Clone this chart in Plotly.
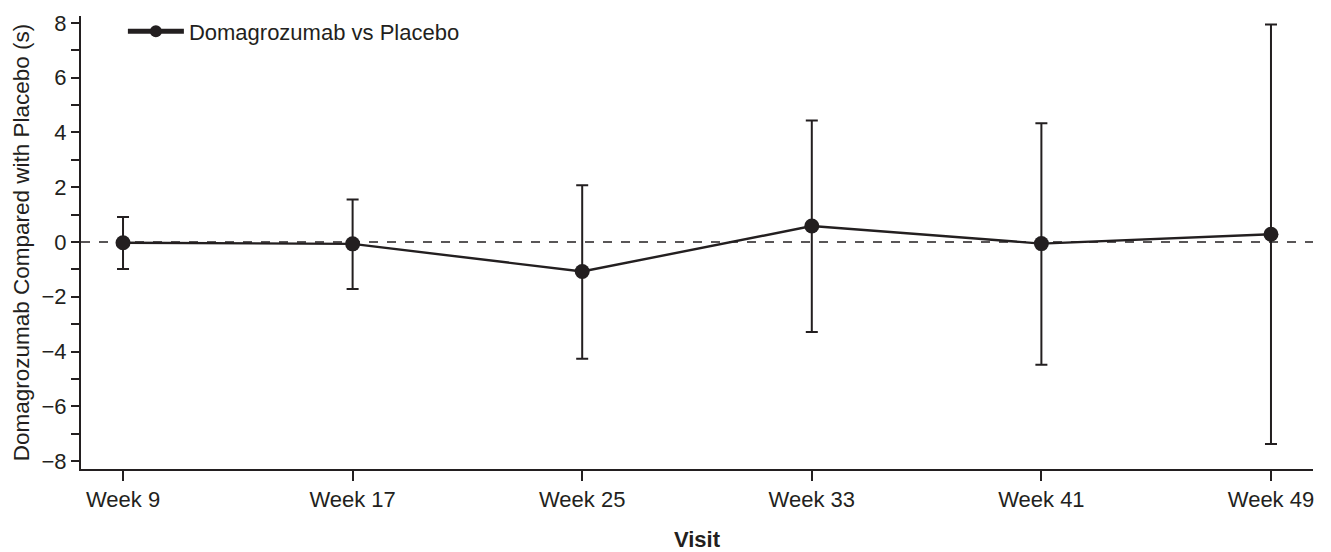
import plotly.graph_objects as go

visits = ["Week 9", "Week 17", "Week 25", "Week 33", "Week 41", "Week 49"]
mean_diff = [-0.03, -0.07, -1.08, 0.58, -0.06, 0.28]
upper_ci = [0.91, 1.55, 2.07, 4.43, 4.33, 7.94]
lower_ci = [-0.99, -1.72, -4.26, -3.29, -4.48, -7.38]
y_ticks = [-8, -6, -4, -2, 0, 2, 4, 6, 8]

err_plus = [u - m for u, m in zip(upper_ci, mean_diff)]
err_minus = [m - l for l, m in zip(lower_ci, mean_diff)]
xpos = list(range(len(visits)))

ink = "#231f20"
font_family = "Liberation Sans, Arial, Helvetica, sans-serif"

fig = go.Figure()
fig.add_trace(go.Scatter(
    x=xpos, y=mean_diff, mode="lines+markers",
    name="Domagrozumab vs Placebo",
    line=dict(color=ink, width=2.4),
    marker=dict(color=ink, size=15),
    error_y=dict(type="data", symmetric=False, array=err_plus, arrayminus=err_minus,
                 color=ink, thickness=2, width=6),
))

# zero reference line
fig.add_shape(type="line", xref="paper", x0=0, x1=1, yref="y", y0=0, y1=0,
              line=dict(color=ink, width=1.4, dash="dash"), layer="below")

fig.update_layout(
    width=1331, height=552,
    margin=dict(l=81, r=18, t=11, b=83),
    paper_bgcolor="white", plot_bgcolor="white",
    font=dict(family=font_family, size=22, color=ink),
    showlegend=True,
    legend=dict(x=0.034, y=1.012, xanchor="left", yanchor="top",
                itemwidth=56, itemsizing="constant",
                bgcolor="rgba(0,0,0,0)", font=dict(size=22)),
)
fig.update_xaxes(
    range=[-0.183, 5.183], tickmode="array", tickvals=xpos, ticktext=visits,
    showline=True, linecolor=ink, linewidth=2, mirror=False,
    ticks="outside", ticklen=10, tickwidth=2, tickcolor=ink,
    tickfont=dict(size=22),
    showgrid=False, zeroline=False, automargin=False,
    title=dict(text="<b>Visit</b>", font=dict(size=22), standoff=20),
)
fig.update_yaxes(
    range=[-8.29, 8.25], tickmode="array", tickvals=y_ticks,
    ticktext=[("\u2212" + str(-v)) if v < 0 else str(v) for v in y_ticks],
    showline=True, linecolor=ink, linewidth=2,
    ticks="outside", ticklen=8, tickwidth=2, tickcolor=ink,
    tickfont=dict(size=22),
    minor=dict(tickvals=[-7, -5, -3, -1, 1, 3, 5, 7], ticks="outside", ticklen=8,
               tickwidth=2, tickcolor=ink, showgrid=False),
    showgrid=False, zeroline=False, automargin=False,
    title=dict(text="Domagrozumab Compared with Placebo (s)", font=dict(size=22.5), standoff=6),
)

fig.write_html("out.html", config={"displayModeBar": False},
               post_script="document.body.style.margin='0';document.body.style.overflow='hidden';")
